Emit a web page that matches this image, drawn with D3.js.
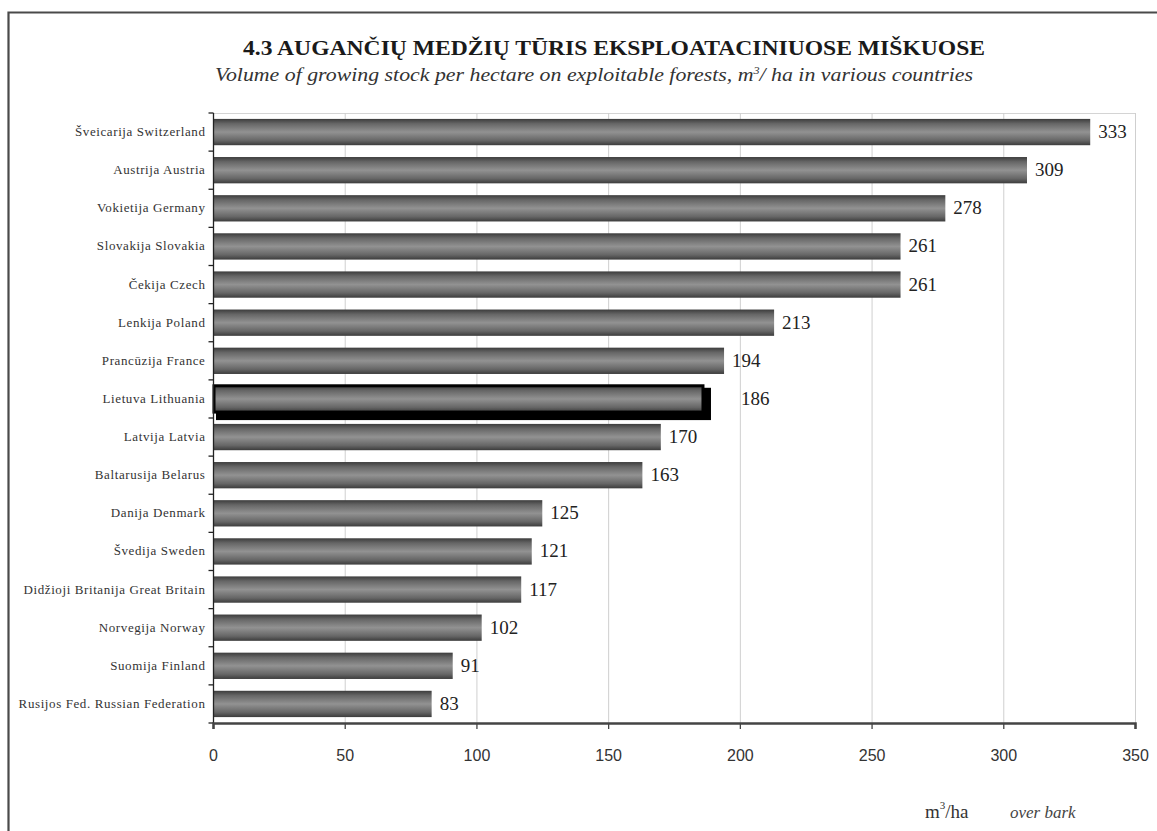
<!DOCTYPE html>
<html>
<head>
<meta charset="utf-8">
<script src="https://cdn.jsdelivr.net/npm/d3@7/dist/d3.min.js"></script>
<style>
  html, body { margin: 0; padding: 0; background: #fff; }
  svg { display: block; }
</style>
</head>
<body>
<svg id="chart" width="1157" height="831"></svg>
<script>
// Growing stock per hectare on exploitable forests, m³/ha over bark
const categories = [
  "Šveicarija Switzerland",
  "Austrija Austria",
  "Vokietija Germany",
  "Slovakija Slovakia",
  "Čekija Czech",
  "Lenkija Poland",
  "Prancūzija France",
  "Lietuva Lithuania",
  "Latvija Latvia",
  "Baltarusija Belarus",
  "Danija Denmark",
  "Švedija Sweden",
  "Didžioji Britanija Great Britain",
  "Norvegija Norway",
  "Suomija Finland",
  "Rusijos Fed. Russian Federation"
];
const values = [333, 309, 278, 261, 261, 213, 194, 186, 170, 163, 125, 121, 117, 102, 91, 83];
const highlighted = ["Lietuva Lithuania"];
const xTicks = [0, 50, 100, 150, 200, 250, 300, 350];

const svg = d3.select("#chart");
const W = 1157, H = 831;
const margin = { left: 213, right: 22, top: 113, bottom: 108 };

const x = d3.scaleLinear().domain([0, 350]).range([margin.left, W - margin.right]);
const y = d3.scaleBand().domain(categories).range([margin.top, H - margin.bottom]).paddingInner(0.31).paddingOuter(0.155);

// cylindrical shading for the bars
const defs = svg.append("defs");
const grad = defs.append("linearGradient").attr("id", "barShade").attr("x1", 0).attr("y1", 0).attr("x2", 0).attr("y2", 1);
[[0, "#3c3c3c"], [0.18, "#666"], [0.5, "#929292"], [0.82, "#666"], [1, "#3c3c3c"]]
  .forEach(([o, c]) => grad.append("stop").attr("offset", o).attr("stop-color", c));

// outer frame
svg.append("path")
  .attr("d", `M8.5,${H} L8.5,12.5 L${W},12.5`)
  .attr("fill", "none").attr("stroke", "#4a4a4a").attr("stroke-width", 2.2);

// titles
svg.append("text")
  .attr("x", 243).attr("y", 55)
  .attr("font-family", "Liberation Serif, Times New Roman, serif")
  .attr("font-weight", "bold").attr("font-size", 20).attr("fill", "#1a1a1a")
  .attr("textLength", 742).attr("lengthAdjust", "spacingAndGlyphs")
  .text("4.3 AUGANČIŲ MEDŽIŲ TŪRIS EKSPLOATACINIUOSE MIŠKUOSE");

const sub = svg.append("text")
  .attr("x", 215).attr("y", 81)
  .attr("font-family", "Liberation Serif, Times New Roman, serif")
  .attr("font-style", "italic").attr("font-size", 18).attr("fill", "#333")
  .attr("textLength", 758).attr("lengthAdjust", "spacingAndGlyphs");
sub.append("tspan").text("Volume of growing stock per hectare on exploitable forests, m");
sub.append("tspan").attr("dy", -7).attr("font-size", 10).text("3");
sub.append("tspan").attr("dy", 7).text("/ ha in various countries");

// plot frame top and vertical gridlines
svg.append("line")
  .attr("x1", x(0)).attr("x2", x(350)).attr("y1", margin.top + 0.5).attr("y2", margin.top + 0.5)
  .attr("stroke", "#d4d4d4").attr("stroke-width", 1);
svg.append("g").selectAll("line")
  .data(xTicks.filter(d => d > 0))
  .join("line")
  .attr("x1", d => x(d) + 0.5).attr("x2", d => x(d) + 0.5)
  .attr("y1", margin.top).attr("y2", H - margin.bottom)
  .attr("stroke", "#cfcfcf").attr("stroke-width", 1);

// bars
const bars = svg.append("g");
categories.forEach((c, i) => {
  const v = values[i];
  const bx = x(0) + 1, by = y(c), bw = x(v) - x(0) - 1, bh = y.bandwidth();
  if (highlighted.includes(c)) {
    bars.append("rect")
      .attr("x", bx + 2).attr("y", by + 2).attr("width", bw + 6).attr("height", bh + 6)
      .attr("fill", "#000");
    bars.append("rect")
      .attr("x", bx).attr("y", by).attr("width", bw).attr("height", bh)
      .attr("fill", "url(#barShade)").attr("stroke", "#000").attr("stroke-width", 3);
  } else {
    bars.append("rect")
      .attr("x", bx).attr("y", by).attr("width", bw).attr("height", bh)
      .attr("fill", "url(#barShade)");
  }
});

// value labels
svg.append("g").selectAll("text")
  .data(categories)
  .join("text")
  .attr("x", (d, i) => x(values[i]) + (highlighted.includes(d) ? 38 : 8))
  .attr("y", d => y(d) + y.bandwidth() / 2 + 6)
  .attr("font-family", "Liberation Serif, Times New Roman, serif")
  .attr("font-size", 19).attr("fill", "#222")
  .text((d, i) => values[i]);

// category axis
const yAxis = svg.append("g")
  .attr("transform", `translate(${x(0) + 0.5},0)`);
yAxis.append("line")
  .attr("y1", margin.top).attr("y2", H - margin.bottom)
  .attr("stroke", "#222").attr("stroke-width", 1.3);
yAxis.selectAll("line.tick")
  .data(d3.range(categories.length + 1))
  .join("line").attr("class", "tick")
  .attr("x1", -5).attr("x2", 0)
  .attr("y1", i => margin.top + i * y.step())
  .attr("y2", i => margin.top + i * y.step())
  .attr("stroke", "#222").attr("stroke-width", 1.3);
yAxis.selectAll("text")
  .data(categories)
  .join("text")
  .attr("x", -8)
  .attr("y", d => y(d) + y.bandwidth() / 2 + 4)
  .attr("text-anchor", "end")
  .attr("font-family", "Liberation Serif, Times New Roman, serif")
  .attr("font-size", 13).attr("letter-spacing", 0.6).attr("fill", "#333")
  .text(d => d);

// value axis
const xAxis = svg.append("g")
  .attr("transform", `translate(0,${H - margin.bottom})`)
  .call(d3.axisBottom(x).tickValues(xTicks).tickSize(6).tickPadding(21).tickFormat(d3.format("d")));
xAxis.select(".domain").attr("stroke", "#444").attr("stroke-width", 2.5);
xAxis.selectAll(".tick line").attr("stroke", "#444").attr("stroke-width", 1.3);
xAxis.selectAll(".tick text")
  .attr("font-family", "Liberation Sans, Arial, sans-serif")
  .attr("font-size", 16).attr("fill", "#333");

// unit note
const unit = svg.append("text")
  .attr("x", 925).attr("y", 818)
  .attr("font-family", "Liberation Serif, Times New Roman, serif")
  .attr("font-size", 19).attr("fill", "#333");
unit.append("tspan").text("m");
unit.append("tspan").attr("dy", -9).attr("font-size", 11).text("3");
unit.append("tspan").attr("dy", 9).text("/ha");
svg.append("text")
  .attr("x", 1010).attr("y", 818)
  .attr("font-family", "Liberation Serif, Times New Roman, serif")
  .attr("font-style", "italic").attr("font-size", 17).attr("fill", "#444")
  .text("over bark");
</script>
</body>
</html>
